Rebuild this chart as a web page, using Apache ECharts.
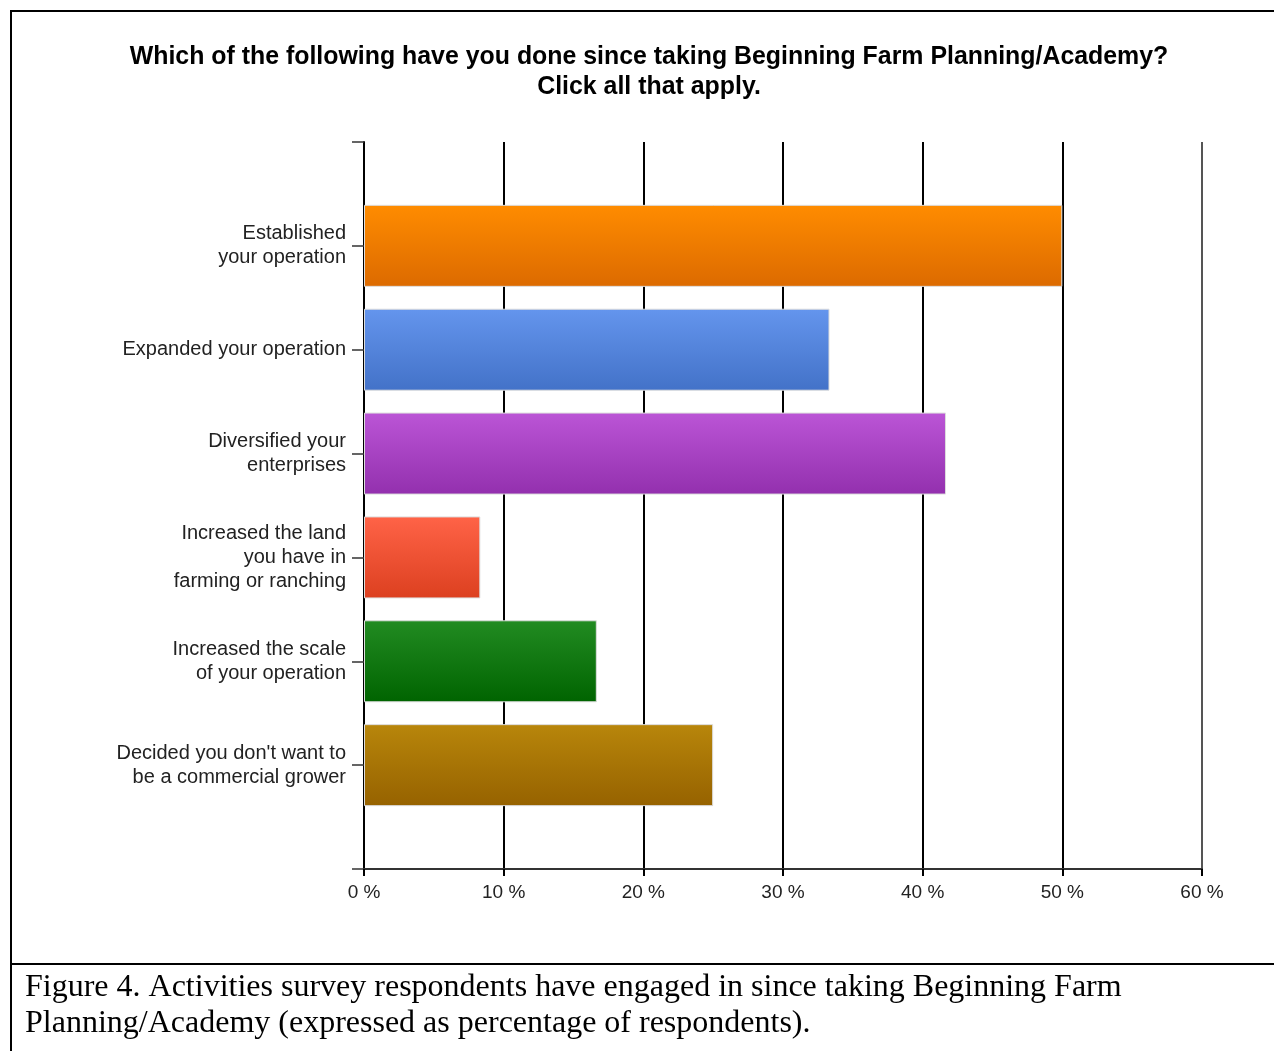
<!DOCTYPE html>
<html>
<head>
<meta charset="utf-8">
<script src="https://cdn.jsdelivr.net/npm/echarts@6/dist/echarts.min.js"></script>
<style>html,body{margin:0;padding:0;background:#fff;}#c{width:1274px;height:1051px;}</style>
</head>
<body>
<div id="c"></div>
<script>
var categories = [
  'Established\nyour operation',
  'Expanded your operation',
  'Diversified your\nenterprises',
  'Increased the land\nyou have in\nfarming or ranching',
  'Increased the scale\nof your operation',
  "Decided you don't want to\nbe a commercial grower"
];
var values = [50, 33.33, 41.67, 8.33, 16.67, 25];
var topColors = ['#ff8c00', '#6495ed', '#bb55d6', '#ff6347', '#228b22', '#b8860b'];
var bottomColors = ['#dc6a00', '#4372c8', '#9330ae', '#dc4020', '#006400', '#966200'];
var xTicks = [0, 10, 20, 30, 40, 50, 60];

var cats = [''].concat(categories).concat(['']);
var data = [null];
values.forEach(function (v, i) {
  data.push({
    value: v,
    itemStyle: {
      color: new echarts.graphic.LinearGradient(0, 0, 0, 1, [
        { offset: 0, color: topColors[i] },
        { offset: 1, color: bottomColors[i] }
      ])
    }
  });
});
data.push(null);

var chart = echarts.init(document.getElementById('c'));
chart.setOption({
  animation: false,
  backgroundColor: '#fff',
  title: [{
    text: 'Which of the following have you done since taking Beginning Farm Planning/Academy?\nClick all that apply.',
    left: 644, top: 37, textAlign: 'center',
    textStyle: { fontFamily: 'Liberation Sans', fontWeight: 'bold', fontSize: 24.9, lineHeight: 30, color: '#000' }
  }, {
    text: 'Figure 4. Activities survey respondents have engaged in since taking Beginning Farm\nPlanning/Academy (expressed as percentage of respondents).',
    left: 20, top: 965,
    textStyle: { fontFamily: 'Liberation Serif', fontWeight: 'normal', fontSize: 32, lineHeight: 36, color: '#000' }
  }],
  graphic: [
    { type: 'line', shape: { x1: 10, y1: 11, x2: 1274, y2: 11 }, style: { stroke: '#000', lineWidth: 2 } },
    { type: 'line', shape: { x1: 11, y1: 10, x2: 11, y2: 1051 }, style: { stroke: '#000', lineWidth: 2 } },
    { type: 'line', shape: { x1: 10, y1: 964, x2: 1274, y2: 964 }, style: { stroke: '#000', lineWidth: 2 } }
  ],
  grid: { left: 364, right: 72, top: 142, bottom: 182, containLabel: false },
  xAxis: {
    type: 'value', min: xTicks[0], max: xTicks[xTicks.length - 1], interval: 10,
    axisLine: { show: true, lineStyle: { color: '#333', width: 2 } },
    axisTick: { show: true, length: 7, lineStyle: { color: '#000', width: 2 } },
    axisLabel: { formatter: '{value} %', margin: 14, fontFamily: 'Liberation Sans', fontSize: 19, color: '#222' },
    splitLine: { show: true, lineStyle: { color: ['#000', '#000', '#000', '#000', '#000', '#000', '#555'], width: 2 } }
  },
  yAxis: {
    type: 'category', data: cats, inverse: true, boundaryGap: false,
    axisLine: { show: true, lineStyle: { color: '#000', width: 2 } },
    axisTick: { show: true, length: 12, alignWithLabel: true, lineStyle: { color: '#333', width: 1.5 } },
    axisLabel: { margin: 18, fontFamily: 'Liberation Sans', fontSize: 20, lineHeight: 24, color: '#222', align: 'right', interval: 0 },
    splitLine: { show: false }
  },
  series: [{
    type: 'bar', data: data, barWidth: 82,
    itemStyle: { borderColor: '#ddd', borderWidth: 1 }
  }]
});
</script>
</body>
</html>
